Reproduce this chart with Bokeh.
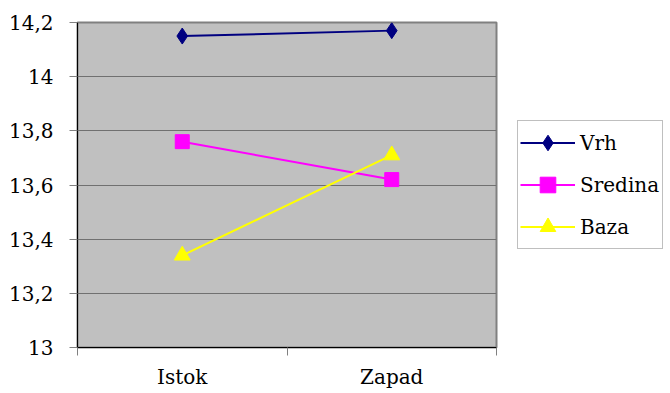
from bokeh.plotting import figure
from bokeh.models import FixedTicker, Legend, LegendItem, Range1d
from bokeh.embed import file_html
from bokeh.resources import INLINE

categories = ["Istok", "Zapad"]
vrh = [14.15, 14.17]
sredina = [13.76, 13.62]
baza = [13.34, 13.71]
y_ticks = [13.0, 13.2, 13.4, 13.6, 13.8, 14.0, 14.2]
y_tick_labels = ["13", "13,2", "13,4", "13,6", "13,8", "14", "14,2"]

FONT = "DejaVu Serif"
FSIZE = "20px"

xs = [i + 0.5 for i in range(len(categories))]

p = figure(frame_width=419, frame_height=325, output_backend="svg",
           toolbar_location=None, x_range=Range1d(0, len(categories)),
           y_range=Range1d(13.0, 14.2),
           min_border_left=77, min_border_top=22, min_border_right=170,
           min_border_bottom=38)
p.border_fill_color = "white"
p.background_fill_color = "#C0C0C0"
p.outline_line_color = "#808080"
p.outline_line_width = 2

# x axis
p.xaxis.ticker = FixedTicker(ticks=xs, minor_ticks=list(range(len(categories) + 1)))
p.xaxis.major_label_overrides = {x: c for x, c in zip(xs, categories)}
p.xaxis.major_tick_out = 0
p.xaxis.major_tick_in = 0
p.xaxis.minor_tick_out = 8
p.xaxis.minor_tick_in = 0
p.xaxis.minor_tick_line_color = "#808080"
p.xaxis.axis_line_color = "black"
p.xaxis.major_label_text_font = FONT
p.xaxis.major_label_text_font_size = FSIZE
p.xaxis.major_label_text_color = "black"
p.xaxis.major_label_standoff = 9
p.xgrid.grid_line_color = None

# y axis
p.yaxis.ticker = FixedTicker(ticks=y_ticks, minor_ticks=[])
p.yaxis.major_label_overrides = {t: l for t, l in zip(y_ticks, y_tick_labels)}
p.yaxis.major_tick_out = 8
p.yaxis.major_tick_in = 0
p.yaxis.major_tick_line_color = "#808080"
p.yaxis.minor_tick_line_color = None
p.yaxis.axis_line_color = "black"
p.yaxis.major_label_text_font = FONT
p.yaxis.major_label_text_font_size = FSIZE
p.yaxis.major_label_text_color = "black"
p.yaxis.major_label_standoff = 16
p.ygrid.grid_line_color = "#707070"
p.ygrid.grid_line_width = 1

l1 = p.line(xs, vrh, line_color="#000080", line_width=2)
s1 = p.scatter(xs, vrh, marker="diamond", size=16,
               fill_color="#000080", line_color="#000080")
l2 = p.line(xs, sredina, line_color="#FF00FF", line_width=2)
s2 = p.scatter(xs, sredina, marker="square", size=14,
               fill_color="#FF00FF", line_color="#FF00FF")
l3 = p.line(xs, baza, line_color="#FFFF00", line_width=2)
s3 = p.scatter(xs, baza, marker="triangle", size=16,
               fill_color="#FFFF00", line_color="#FFFF00")

legend = Legend(items=[
    LegendItem(label="Vrh", renderers=[l1, s1]),
    LegendItem(label="Sredina", renderers=[l2, s2]),
    LegendItem(label="Baza", renderers=[l3, s3]),
], location=(21, 98))
legend.border_line_color = "#808080"
legend.border_line_width = 1
legend.background_fill_color = "white"
legend.background_fill_alpha = 1
legend.label_text_font = FONT
legend.label_text_font_size = FSIZE
legend.label_text_color = "black"
legend.glyph_width = 55
legend.glyph_height = 39
legend.label_height = 39
legend.label_width = 80
legend.label_standoff = 5
legend.spacing = 3
legend.padding = 2
legend.margin = 0
p.add_layout(legend, "right")

open("out.html", "w").write(file_html(p, INLINE))
